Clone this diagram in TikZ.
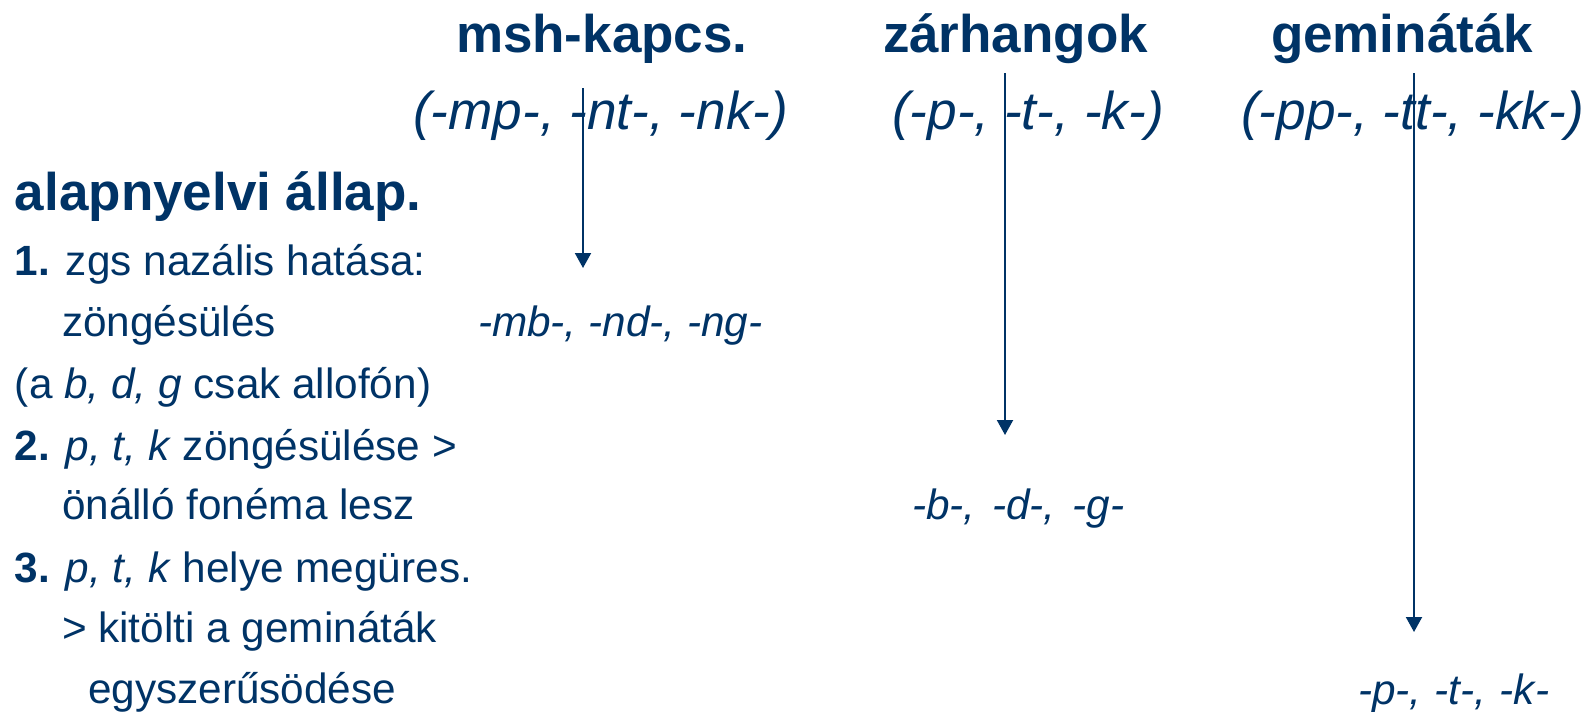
\documentclass[tikz,border=0pt]{standalone}
\usepackage{fontspec}
\setmainfont{Liberation Sans}
\usetikzlibrary{arrows.meta}
\definecolor{navy}{RGB}{0,51,102}
\tikzset{
  txt/.style={anchor=base west, inner sep=0pt, outer sep=0pt, text=navy, font=\fontsize{21.15}{25}\selectfont},
  res/.style={txt, font=\fontsize{21.15}{25}\selectfont\itshape},
  head/.style={anchor=base west, inner sep=0pt, outer sep=0pt, text=navy, font=\fontsize{26.5}{30}\selectfont\bfseries},
  formula/.style={anchor=base west, inner sep=0pt, outer sep=0pt, text=navy, font=\fontsize{26.6}{30}\selectfont\itshape},
  arr/.style={draw=navy, line width=1pt, -{Triangle[width=8pt,length=7.5pt]}}
}
\begin{document}
\begin{tikzpicture}[x=0.5pt, y=-0.5pt]
\useasboundingbox (0,0) rectangle (1586,712);
% headings
\node[head] (h1) at (456,53) {msh-kapcs.};
\node[head] (h2) at (883,53) {zárhangok};
\node[head] (h3) at (1271,53) {gemináták};
\node[formula] (f1) at (413,129) {(-mp-, -nt-, -nk-)};
\node[formula] (f2) at (892,129) {(-p-, -t-, -k-)};
\node[formula] (f3) at (1241,129) {(-pp-, -tt-, -kk-)};
% left column
\node[head] (alap) at (15,210) {alapnyelvi állap.};
\node[txt] (l1) at (15,275) {\textbf{1.} zgs nazális hatása:};
\node[txt] (l2) at (62,336) {zöngésülés};
\node[txt] (l3) at (15,398) {(a \textit{b, d, g} csak allofón)};
\node[txt] (l4) at (15,460) {\textbf{2.} \textit{p, t, k} zöngésülése >};
\node[txt] (l5) at (62,519) {önálló fonéma lesz};
\node[txt] (l6) at (15,582) {\textbf{3.} \textit{p, t, k} helye megüres.};
\node[txt] (l7) at (62,642) {> kitölti a gemináták};
\node[txt] (l8) at (88,703) {egyszerűsödése};
% results
\node[res] (r1) at (478,336) {-mb-, -nd-, -ng-};
\node[res] (r2) at (912,519) {-b-,\hspace{2.5pt} -d-,\hspace{2.5pt} -g-};
\node[res] (r3) at (1358,704) {-p-,\hspace{0.8pt} -t-,\hspace{0.8pt} -k-};
% arrows
\coordinate (a1s) at (583,88);
\coordinate (a1e) at (583,268);
\coordinate (a2s) at (1005,73);
\coordinate (a2e) at (1005,435);
\coordinate (a3s) at (1414,73);
\coordinate (a3e) at (1414,632);
\draw[arr] (a1s) -- (a1e);
\draw[arr] (a2s) -- (a2e);
\draw[arr] (a3s) -- (a3e);
\end{tikzpicture}
\end{document}
